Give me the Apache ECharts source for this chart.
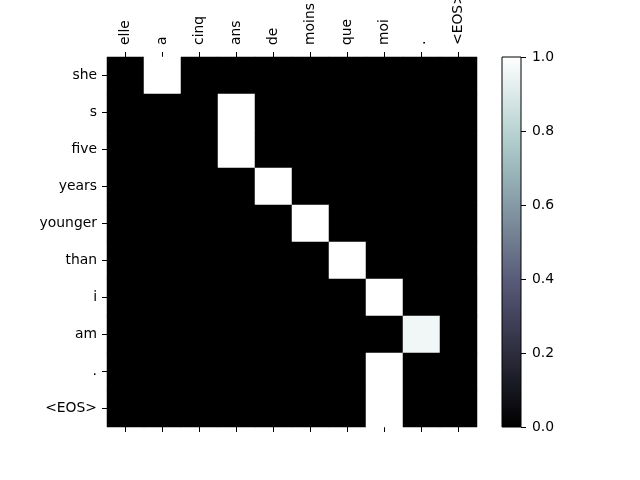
<!DOCTYPE html>
<html><head><meta charset="utf-8">
<script src="https://cdn.jsdelivr.net/npm/echarts@6/dist/echarts.min.js"></script>
<style>html,body{margin:0;padding:0;background:#fff}#c{width:640px;height:480px}</style>
</head><body><div id="c"></div>
<script>
const inputWords = ['elle','a','cinq','ans','de','moins','que','moi','.','<EOS>'];
const outputWords = ['she','s','five','years','younger','than','i','am','.','<EOS>'];
const rowShe     = [0,1,0,0,0,0,0,0,0,0];
const rowS       = [0,0,0,1,0,0,0,0,0,0];
const rowFive    = [0,0,0,1,0,0,0,0,0,0];
const rowYears   = [0,0,0,0,1,0,0,0,0,0];
const rowYounger = [0,0,0,0,0,1,0,0,0,0];
const rowThan    = [0,0,0,0,0,0,1,0,0,0];
const rowI       = [0,0,0,0,0,0,0,1,0,0];
const rowAm      = [0,0,0,0,0,0,0,0,0.96,0];
const rowDot     = [0,0,0,0,0,0,0,1,0,0];
const rowEOS     = [0,0,0,0,0,0,0,1,0,0];
const attention = [rowShe,rowS,rowFive,rowYears,rowYounger,rowThan,rowI,rowAm,rowDot,rowEOS];
const colorTicks = [0,0.2,0.4,0.6,0.8,1.0];

// bone colormap sampled at 0,0.1,...,1
const bone = ['#000000','#16161f','#2d2d3e','#43435d','#595c79','#6f7b8f','#869aa6','#9cb9bc','#b9d3d2','#dce9e9','#ffffff'];

const data = [];
attention.forEach((row, r) => row.forEach((v, c) => data.push([c, r, v])));

const chart = echarts.init(document.getElementById('c'), null, {renderer:'canvas'});
const font = 'DejaVu Sans';
const fs = 13.9;
const tick = {show:true, alignWithLabel:true, interval:0, length:5, lineStyle:{color:'#000'}};
chart.setOption({
  backgroundColor:'#ffffff',
  animation:false,
  textStyle:{fontFamily:font},
  grid:[
    {left:107, right:163, top:57, bottom:53, containLabel:false, outerBoundsMode:'none'},
    {left:502, right:119, top:57, bottom:53, containLabel:false, outerBoundsMode:'none',
     show:true, borderColor:'#000', borderWidth:1, backgroundColor:'transparent', z:10}
  ],
  xAxis:[
    {type:'category', gridIndex:0, position:'top', data:inputWords,
     axisLine:{show:false}, axisTick:tick,
     axisLabel:{rotate:-90, margin:12, color:'#000', fontSize:fs, fontFamily:font, interval:0, overflow:'none'}, splitLine:{show:false}},
    {type:'category', gridIndex:0, position:'bottom', data:inputWords,
     axisLine:{show:false}, axisTick:tick,
     axisLabel:{show:false}, splitLine:{show:false}},
    {type:'category', gridIndex:1, data:['c'], show:false}
  ],
  yAxis:[
    {type:'category', gridIndex:0, data:outputWords, inverse:true,
     axisLine:{show:false}, axisTick:tick,
     axisLabel:{margin:10, color:'#000', fontSize:fs, fontFamily:font, interval:0}, splitLine:{show:false}},
    {type:'value', gridIndex:1, position:'right', min:0, max:1, interval:0.2,
     axisLine:{show:false}, axisTick:{show:true, length:5, inside:false, lineStyle:{color:'#000'}},
     axisLabel:{margin:11, color:'#000', fontSize:fs, fontFamily:font, formatter:v=>v.toFixed(1)},
     splitLine:{show:false}}
  ],
  visualMap:{show:false, min:0, max:1, seriesIndex:0, inRange:{color:bone}},
  series:[
    {type:'heatmap', xAxisIndex:0, yAxisIndex:0, data:data, itemStyle:{borderWidth:0}},
    {type:'bar', xAxisIndex:2, yAxisIndex:1, data:[colorTicks[colorTicks.length-1]], barWidth:'100%',
     itemStyle:{color:new echarts.graphic.LinearGradient(0,1,0,0, bone.map((c,i)=>({offset:i/(bone.length-1), color:c})))},
     silent:true}
  ]
});
</script></body></html>
